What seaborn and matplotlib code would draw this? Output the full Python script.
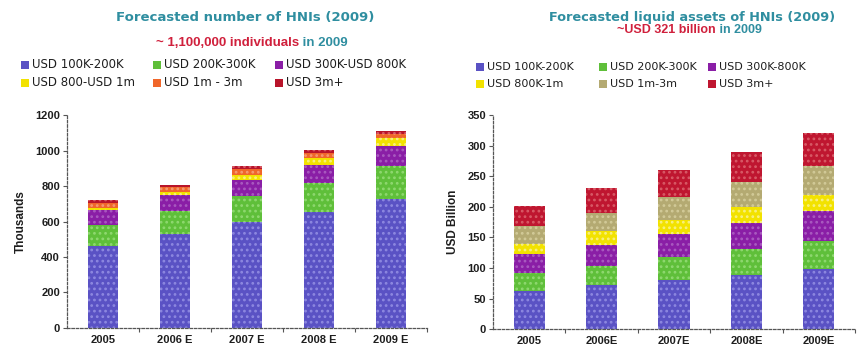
import matplotlib
matplotlib.use("Agg")
import matplotlib.pyplot as plt
from matplotlib.patches import Patch
import seaborn as sns
import pandas as pd
import numpy as np

# ---- data -------------------------------------------------------------
years_left = ["2005", "2006 E", "2007 E", "2008 E", "2009 E"]
bands_left = ["USD 100K-200K", "USD 200K-300K", "USD 300K-USD 800K",
              "USD 800-USD 1m", "USD 1m - 3m", "USD 3m+"]
hni_100_200 = [463, 527, 595, 655, 725]
hni_200_300 = [115, 133, 148, 163, 187]
hni_300_800 = [85, 89, 94, 104, 113]
hni_800_1m = [15, 15, 25, 39, 44]
hni_1m_3m = [26, 32, 37, 27, 28]
hni_3m_plus = [15, 13, 15, 15, 15]

years_right = ["2005", "2006E", "2007E", "2008E", "2009E"]
bands_right = ["USD 100K-200K", "USD 200K-300K", "USD 300K-800K",
               "USD 800K-1m", "USD 1m-3m", "USD 3m+"]
liq_100_200 = [63, 72, 81, 89, 98]
liq_200_300 = [29, 31, 37, 42, 46]
liq_300_800 = [31, 35, 38, 43, 49]
liq_800_1m = [17, 22, 23, 25, 26]
liq_1m_3m = [28, 30, 37, 42, 48]
liq_3m_plus = [34, 40, 44, 49, 54]

colors_left = ["#5a52c4", "#5fbf3a", "#8a1ea6", "#f2e200", "#f0662a", "#b8142a"]
colors_right = ["#5a52c4", "#5fbf3a", "#8a1ea6", "#f2e200", "#b4aa72", "#bf1630"]
hatch_left = ["#8d88e0", "#8fd870", "#a95ac0", "#f8f080", "#f59a70", "#d85a66"]
hatch_right = ["#8d88e0", "#8fd870", "#a95ac0", "#f8f080", "#d2ca98", "#d85a66"]

TEAL = "#2f8ea0"
RED = "#d0203c"
INK = "#1e1e1e"

sns.set_style("white")
plt.rcParams["font.family"] = ["Liberation Sans", "DejaVu Sans"]
plt.rcParams["hatch.linewidth"] = 1.2

fig = plt.figure(figsize=(8.6, 3.49), dpi=100)
W, H = 860, 349


def frac_box(x0, x1, ybot, ytop):
    return [x0 / W, 1 - ybot / H, (x1 - x0) / W, (ybot - ytop) / H]


ax_l = fig.add_axes(frac_box(67, 427, 327.7, 115.3))
ax_r = fig.add_axes(frac_box(493, 855, 329.3, 115.0))


def stacked(ax, years, bands, series, colors, hcolors, ymax, ystep, ylabel):
    frame = pd.DataFrame(dict(zip(bands, series)), index=years)
    cum = frame.cumsum(axis=1)
    # draw cumulative heights from the top band down so each layer shows
    for band, col, hc in reversed(list(zip(bands, colors, hcolors))):
        d = pd.DataFrame({"year": years, "value": cum[band].values})
        sns.barplot(data=d, x="year", y="value", order=years, color=col,
                    width=0.43, saturation=1, ax=ax, linewidth=0,
                    edgecolor=hc, hatch="...")
    ax.set_xlim(-0.5, len(years) - 0.5)
    ax.set_ylim(0, ymax)
    ax.set_yticks(np.arange(0, ymax + 1, ystep))
    ax.set_xlabel("")
    ax.set_ylabel(ylabel, fontsize=8.5, fontweight="bold", color=INK, labelpad=6)
    for s in ("top", "right"):
        ax.spines[s].set_visible(False)
    for s in ("left", "bottom"):
        ax.spines[s].set_color("#555555")
        ax.spines[s].set_linewidth(0.9)
        ax.spines[s].set_linestyle((0, (2, 1.5)))
    ax.tick_params(axis="y", length=3, width=0.8, color="#555555",
                   labelsize=8, labelcolor=INK, pad=2, left=True)
    ax.tick_params(axis="x", which="major", length=0, labelsize=8,
                   labelcolor=INK, pad=5)
    ax.set_xticks(np.arange(0.5, len(years), 1.0), minor=True)
    ax.tick_params(axis="x", which="minor", length=3, width=0.8,
                   color="#555555", bottom=True)
    for lab in ax.get_xticklabels() + ax.get_yticklabels():
        lab.set_fontweight("bold")
    handles = [Patch(facecolor=c, edgecolor="none") for c in colors]
    return handles


h_l = stacked(ax_l, years_left, bands_left,
              [hni_100_200, hni_200_300, hni_300_800, hni_800_1m, hni_1m_3m, hni_3m_plus],
              colors_left, hatch_left, 1200, 200, "Thousands")
h_r = stacked(ax_r, years_right, bands_right,
              [liq_100_200, liq_200_300, liq_300_800, liq_800_1m, liq_1m_3m, liq_3m_plus],
              colors_right, hatch_right, 350, 50, "USD Billion")


def legend_grid(handles, labels, cols_x, rows_y, size):
    for i, (h, lab) in enumerate(zip(handles, labels)):
        cx = cols_x[i % 3]
        cy = rows_y[i // 3]
        fig.patches.append(plt.Rectangle(((cx - 4) / W, 1 - (cy + 4) / H), 8 / W, 8 / H,
                                         transform=fig.transFigure,
                                         facecolor=h.get_facecolor(), edgecolor="none"))
        fig.text((cx + 7) / W, 1 - cy / H, lab, fontsize=size, color=INK,
                 family=["DejaVu Sans"], ha="left", va="center")


legend_grid(h_l, bands_left, [25, 157, 279], [65, 83], 8.5)
legend_grid(h_r, bands_right, [480, 603, 712], [67, 84], 8)


def two_tone(x_split, y, red_txt, teal_txt, size):
    fig.text(x_split / W, 1 - y / H, red_txt, color=RED, fontsize=size,
             fontweight="bold", ha="right", va="center")
    fig.text(x_split / W, 1 - y / H, teal_txt, color=TEAL, fontsize=size,
             fontweight="bold", ha="left", va="center")


fig.text(245 / W, 1 - 18 / H, "Forecasted number of HNIs (2009)", color=TEAL,
         fontsize=9.5, fontweight="bold", family=["DejaVu Sans"],
         ha="center", va="center")
two_tone(299, 43, "~ 1,100,000 individuals", " in 2009", 9.5)

fig.text(692 / W, 1 - 17 / H, "Forecasted liquid assets of HNIs (2009)", color=TEAL,
         fontsize=9.3, fontweight="bold", family=["DejaVu Sans"],
         ha="center", va="center")
two_tone(716, 30, "~USD 321 billion", " in 2009", 9)

fig.savefig("out.png", dpi=100)
